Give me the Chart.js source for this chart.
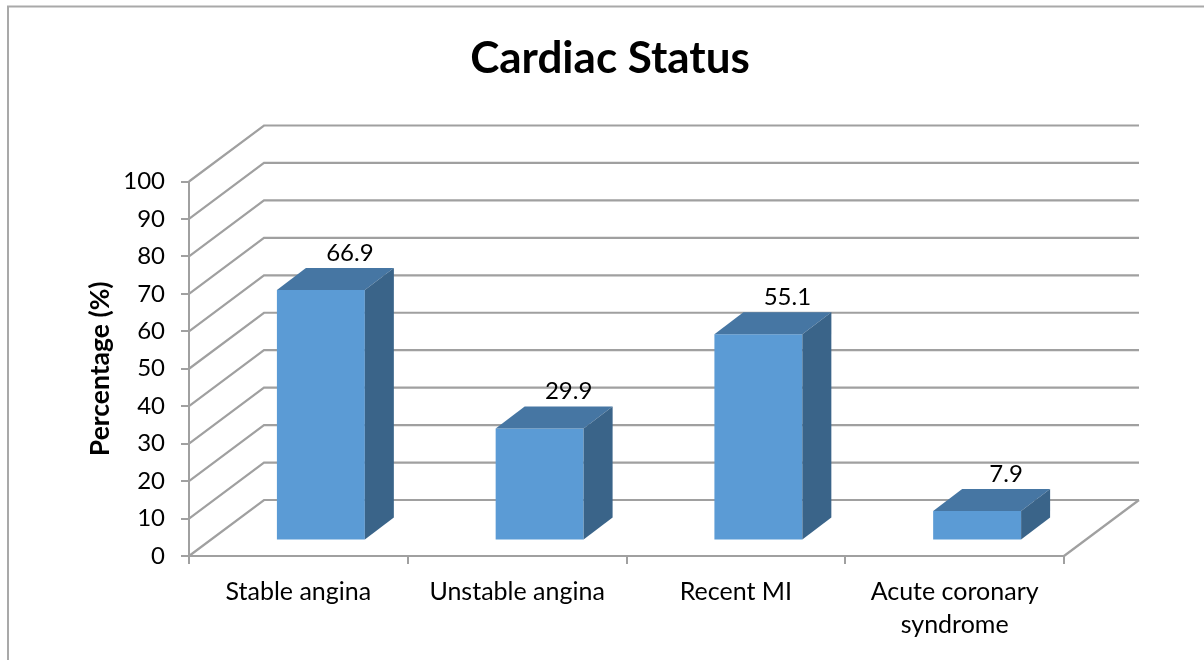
<!DOCTYPE html>
<html>
<head>
<meta charset="utf-8">
<style>html,body{margin:0;padding:0;background:#fff}canvas{display:block}</style>
<script src="https://cdn.jsdelivr.net/npm/chart.js@4"></script>
</head>
<body>
<canvas id="c" width="1204" height="660"></canvas>
<script>
const categories = ["Stable angina", "Unstable angina", "Recent MI", ["Acute coronary", "syndrome"]];
const percentages = [66.9, 29.9, 55.1, 7.9];
const yTicks = [0, 10, 20, 30, 40, 50, 60, 70, 80, 90, 100];

const FONT = "Lato, Carlito, sans-serif";
const GRID = "#a0a0a0";
const wall = { dx: 75, dy: -56 };
const barShift = { dx: 22.5, dy: -15.5 };
const barDepth = { dx: 29, dy: -22 };
const labelShift = { dx: 29, dy: -37 };

const chart3d = {
  id: "chart3d",
  afterLayout(chart) {
    chart.titleBlock.left = 16;
    chart.titleBlock.right = 1204;
  },
  beforeDraw(chart) {
    const ctx = chart.ctx;
    ctx.save();
    ctx.strokeStyle = "#a9a9a9";
    ctx.lineWidth = 2;
    ctx.beginPath();
    ctx.moveTo(8, 660);
    ctx.lineTo(8, 6.5);
    ctx.lineTo(1204, 6.5);
    ctx.stroke();
    ctx.restore();
  },
  beforeDatasetsDraw(chart) {
    const ctx = chart.ctx, y = chart.scales.y, a = chart.chartArea;
    ctx.save();
    ctx.strokeStyle = GRID;
    ctx.lineWidth = 2.2;
    y.ticks.forEach(t => {
      const py = y.getPixelForValue(t.value);
      ctx.beginPath();
      ctx.moveTo(a.left, py);
      ctx.lineTo(a.left + wall.dx, py + wall.dy);
      ctx.lineTo(a.right + wall.dx, py + wall.dy);
      ctx.stroke();
    });
    const p0 = y.getPixelForValue(0);
    ctx.beginPath();
    ctx.moveTo(a.right, p0);
    ctx.lineTo(a.right + wall.dx, p0 + wall.dy);
    ctx.stroke();
    ctx.restore();
    ctx.save();
    ctx.translate(barShift.dx, barShift.dy);
  },
  afterDatasetsDraw(chart) {
    const ctx = chart.ctx;
    chart.getDatasetMeta(0).data.forEach((bar, i) => {
      const l = bar.x - bar.width / 2, r = bar.x + bar.width / 2, t = bar.y, b = bar.base;
      ctx.fillStyle = "#4676a3";
      ctx.beginPath();
      ctx.moveTo(l, t);
      ctx.lineTo(l + barDepth.dx, t + barDepth.dy);
      ctx.lineTo(r + barDepth.dx, t + barDepth.dy);
      ctx.lineTo(r, t);
      ctx.closePath();
      ctx.fill();
      ctx.fillStyle = "#3a6489";
      ctx.beginPath();
      ctx.moveTo(r, t);
      ctx.lineTo(r + barDepth.dx, t + barDepth.dy);
      ctx.lineTo(r + barDepth.dx, b + barDepth.dy);
      ctx.lineTo(r, b);
      ctx.closePath();
      ctx.fill();
      ctx.fillStyle = "#000";
      ctx.font = "24px " + FONT;
      ctx.textAlign = "center";
      ctx.textBaseline = "middle";
      ctx.fillText(String(percentages[i]), bar.x + labelShift.dx, t + labelShift.dy);
    });
    ctx.restore();
  }
};

new Chart(document.getElementById("c"), {
  type: "bar",
  data: {
    labels: categories,
    datasets: [{
      data: percentages,
      backgroundColor: "#5b9bd5",
      borderWidth: 0,
      categoryPercentage: 1,
      barPercentage: 0.402,
      clip: false
    }]
  },
  options: {
    responsive: false,
    animation: false,
    layout: { padding: { left: 85, right: 140, top: 0, bottom: 0 } },
    plugins: {
      legend: { display: false },
      tooltip: { enabled: false },
      title: {
        display: true,
        text: "Cardiac Status",
        color: "#000",
        font: { family: FONT, size: 44, weight: "bold" },
        padding: { top: 32, bottom: 96.7 }
      }
    },
    scales: {
      x: {
        afterFit(s) { s.height = 104; },
        border: { display: true, color: GRID, width: 2 },
        grid: { drawOnChartArea: false, drawTicks: true, tickLength: 8, color: GRID, lineWidth: 2 },
        ticks: { color: "#000", font: { family: FONT, size: 25, lineHeight: 1.32 }, maxRotation: 0, minRotation: 0, padding: 11 }
      },
      y: {
        min: 0,
        max: 100,
        afterFit(s) { s.width = 104; },
        afterBuildTicks(s) { s.ticks = yTicks.map(v => ({ value: v })); },
        border: { display: true, color: GRID, width: 2 },
        grid: { drawOnChartArea: false, drawTicks: true, tickLength: 8, color: GRID, lineWidth: 2 },
        ticks: { color: "#000", font: { family: FONT, size: 24 }, padding: 16 },
        title: {
          display: true,
          text: "Percentage (%)",
          color: "#000",
          font: { family: FONT, size: 26.5, weight: "bold" },
          padding: { top: 0, bottom: 0 }
        }
      }
    }
  },
  plugins: [chart3d]
});
</script>
</body>
</html>
